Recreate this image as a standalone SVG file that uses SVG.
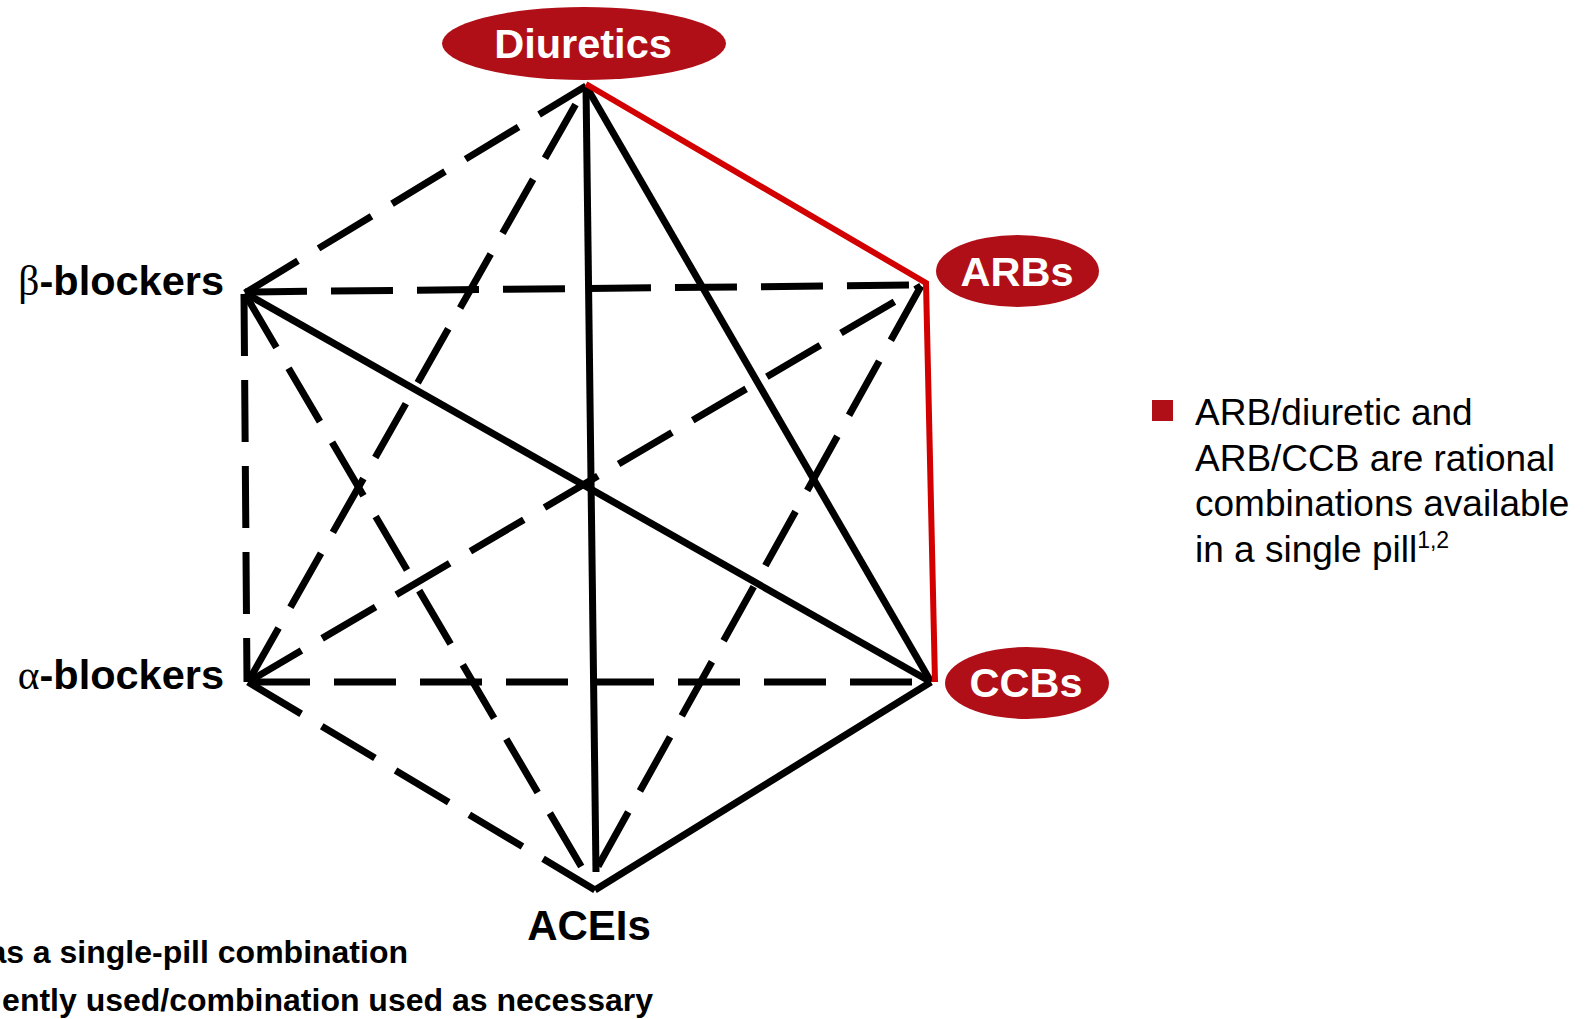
<svg xmlns="http://www.w3.org/2000/svg" width="1589" height="1019" viewBox="0 0 1589 1019">
<style>
.bg{fill:#ffffff}
.node-ell{fill:#b00f18}
.node-lbl{font-family:"Liberation Sans",Arial,sans-serif;font-weight:bold;fill:#ffffff;text-anchor:middle}
.plain-lbl{font-family:"Liberation Sans",Arial,sans-serif;font-weight:bold;fill:#000000}
.solid{stroke:#000000;stroke-width:7;fill:none}
.dash{stroke:#000000;stroke-width:7;fill:none;stroke-dasharray:62 24}
.red{stroke:#d20000;stroke-width:6;fill:none;stroke-linejoin:miter}
.note{font-family:"Liberation Sans",Arial,sans-serif;font-size:37px;fill:#000000}
.legend{font-family:"Liberation Sans",Arial,sans-serif;font-weight:bold;font-size:32px;fill:#000000}
</style>
<rect class="bg" x="0" y="0" width="1589" height="1019"/>
<g id="connectors">
  <line class="dash" x1="245" y1="293" x2="586" y2="86"/>
  <line class="dash" x1="248" y1="682" x2="586" y2="86"/>
  <line class="dash" x1="245" y1="292" x2="921" y2="285"/>
  <line class="dash" x1="244" y1="294" x2="247" y2="682"/>
  <line class="dash" x1="245" y1="294" x2="595" y2="890"/>
  <line class="dash" x1="248" y1="682" x2="921" y2="286"/>
  <line class="dash" x1="248" y1="682" x2="931" y2="682"/>
  <line class="dash" x1="248" y1="682" x2="595" y2="890"/>
  <line class="dash" x1="921" y1="286" x2="596" y2="870"/>
  <line class="solid" x1="586" y1="86" x2="596" y2="872"/>
  <line class="solid" x1="586" y1="86" x2="931" y2="682"/>
  <line class="solid" x1="245" y1="293" x2="931" y2="682"/>
  <line class="solid" x1="931" y1="682" x2="595" y2="890"/>
  <polyline class="red" points="586,84 926,283 935,682"/>
</g>
<g id="node-diuretics">
  <ellipse class="node-ell" cx="584" cy="43.5" rx="142" ry="36.5"/>
  <text class="node-lbl" x="583" y="58" font-size="41.5">Diuretics</text>
</g>
<g id="node-arbs">
  <ellipse class="node-ell" cx="1017.5" cy="271" rx="81.5" ry="36"/>
  <text class="node-lbl" x="1017" y="286" font-size="41.5">ARBs</text>
</g>
<g id="node-ccbs">
  <ellipse class="node-ell" cx="1027" cy="683" rx="82" ry="36"/>
  <text class="node-lbl" x="1026" y="697" font-size="41.5">CCBs</text>
</g>
<g id="node-beta">
  <text class="plain-lbl" x="224" y="295" font-size="41.5" text-anchor="end"><tspan font-weight="normal" font-family="'Liberation Serif',serif">β</tspan>-blockers</text>
</g>
<g id="node-alpha">
  <text class="plain-lbl" x="224" y="689" font-size="41.5" text-anchor="end"><tspan font-weight="normal" font-family="'Liberation Serif',serif">α</tspan>-blockers</text>
</g>
<g id="node-aceis">
  <text class="plain-lbl" x="589" y="940" font-size="42" text-anchor="middle">ACEIs</text>
</g>
<g id="note">
  <rect x="1152" y="400" width="21" height="21" fill="#b00f18"/>
  <text class="note" x="1195" y="425">ARB/diuretic and</text>
  <text class="note" x="1195" y="470.5">ARB/CCB are rational</text>
  <text class="note" x="1195" y="516">combinations available</text>
  <text class="note" x="1195" y="561.5">in a single pill<tspan font-size="23" dy="-14">1,2</tspan></text>
</g>
<g id="legend">
  <text class="legend" x="408" y="963" text-anchor="end">as a single-pill combination</text>
  <text class="legend" x="653" y="1011" text-anchor="end">ently used/combination used as necessary</text>
</g>
</svg>
